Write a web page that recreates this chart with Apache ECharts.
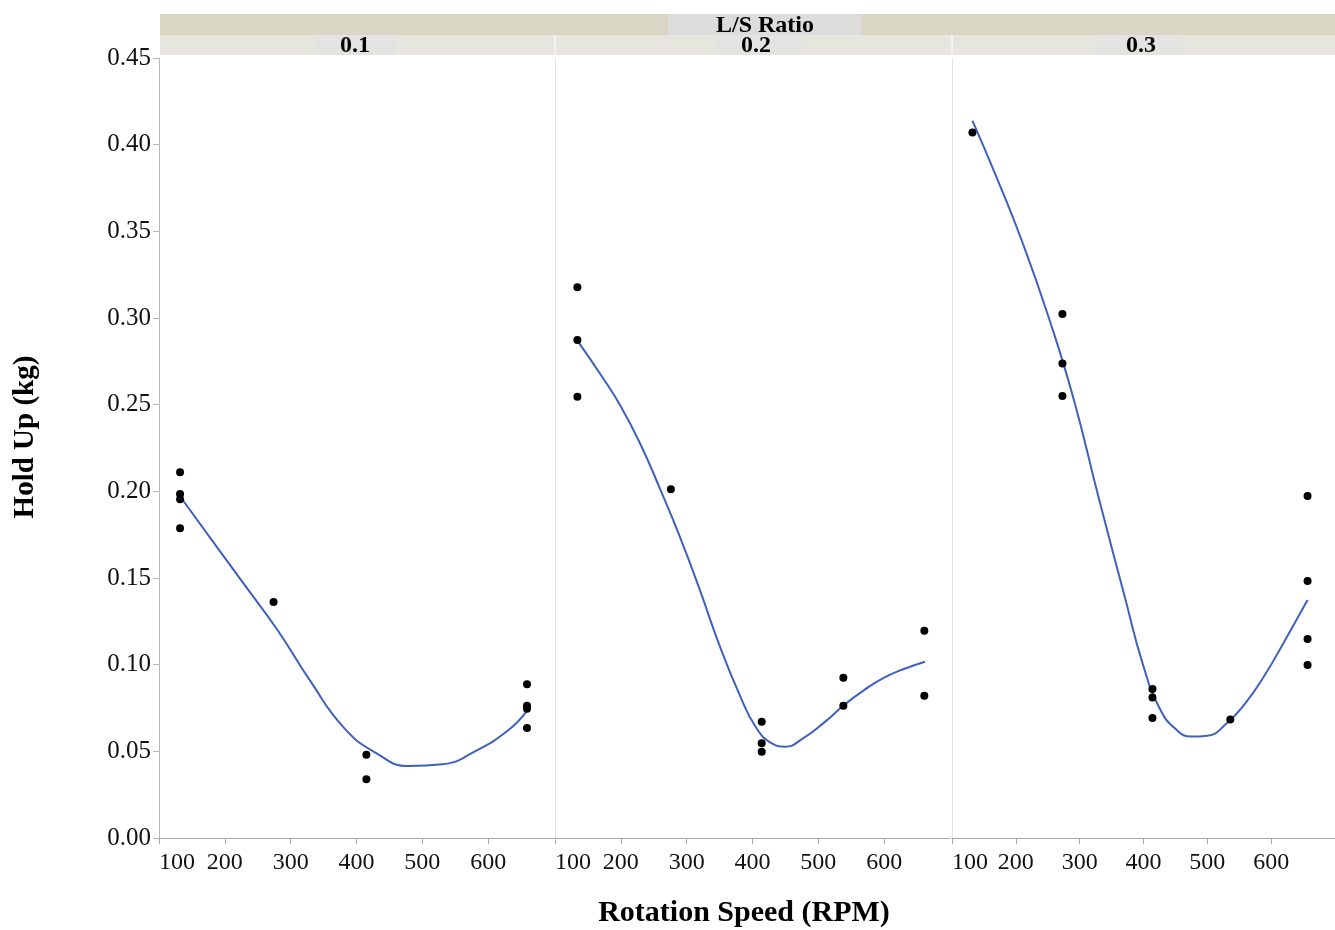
<!DOCTYPE html>
<html>
<head>
<meta charset="utf-8">
<script src="https://cdn.jsdelivr.net/npm/echarts@6/dist/echarts.min.js"></script>
<style>html,body{margin:0;padding:0;background:#fff;}#c{width:1335px;height:930px;}</style>
</head>
<body>
<div id="c"></div>
<script>
// ---- Data ----
const panelLabels = ['0.1', '0.2', '0.3'];
const stripTitle = 'L/S Ratio';
const xTitle = 'Rotation Speed (RPM)';
const yTitle = 'Hold Up (kg)';

// Observed points, L/S = 0.1
const p1X = [132, 132, 132, 132, 274, 415, 415, 659, 659, 659, 659];
const p1Y = [0.211, 0.1985, 0.1954, 0.1787, 0.1362, 0.0481, 0.0339, 0.0887, 0.0763, 0.0746, 0.0635];
// Observed points, L/S = 0.2
const p2X = [134, 134, 134, 276, 414, 414, 414, 538, 538, 661, 661];
const p2Y = [0.3177, 0.2873, 0.2546, 0.2012, 0.0671, 0.0546, 0.0498, 0.0925, 0.0763, 0.1196, 0.0821];
// Observed points, L/S = 0.3
const p3X = [132, 273, 273, 273, 414, 414, 414, 536, 657, 657, 657, 657];
const p3Y = [0.407, 0.3023, 0.2738, 0.255, 0.086, 0.0811, 0.0692, 0.0684, 0.1973, 0.1483, 0.1148, 0.0998];

// Smoothing fit curves
const f1X = [133, 180, 230, 280, 330, 380, 430, 480, 530, 580, 630, 658];
const f1Y = [0.1966, 0.172, 0.146, 0.120, 0.0905, 0.064, 0.049, 0.0415, 0.0425, 0.050, 0.062, 0.0729];
const f2X = [135, 170, 200, 230, 260, 290, 320, 350, 380, 405, 430, 450, 475, 510, 540, 570, 600, 630, 662];
const f2Y = [0.2864, 0.267, 0.249, 0.227, 0.201, 0.1735, 0.1431, 0.111, 0.083, 0.064, 0.0545, 0.0527, 0.057, 0.067, 0.077, 0.0855, 0.0925, 0.0975, 0.1017];
const f3X = [132, 170, 210, 250, 290, 330, 370, 400, 425, 450, 475, 500, 530, 560, 590, 620, 657];
const f3Y = [0.4139, 0.381, 0.344, 0.302, 0.254, 0.196, 0.140, 0.099, 0.075, 0.063, 0.0585, 0.059, 0.066, 0.078, 0.094, 0.113, 0.1373];

const pts = [[p1X, p1Y], [p2X, p2Y], [p3X, p3Y]];
const fits = [[f1X, f1Y], [f2X, f2Y], [f3X, f3Y]];
const zip = (a, b) => a.map((v, i) => [v, b[i]]);

// ---- Layout ----
const FONT = 'Liberation Serif';
const lefts = [159, 555, 952];
const W = 395, TOP = 58, H = 780;

const grids = lefts.map(l => ({ left: l, top: TOP, width: W, height: H }));
const xAxes = lefts.map((l, i) => ({
  type: 'value', gridIndex: i, min: 100, max: 700, interval: 100,
  axisLine: { show: true, lineStyle: { color: '#a8a8a8', width: 1 } },
  axisTick: { show: true, length: 6, lineStyle: { color: '#a8a8a8' } },
  axisLabel: { showMaxLabel: false, alignMinLabel: 'left', color: '#111', fontFamily: FONT, fontSize: 24, margin: 13 },
  splitLine: { show: false }
}));
const yAxes = lefts.map((l, i) => ({
  type: 'value', gridIndex: i, min: 0, max: 0.45, interval: 0.05,
  axisLine: { show: true, lineStyle: { color: i === 0 ? '#b8b8b8' : '#e2e2e2', width: 1 } },
  axisTick: { show: i === 0, length: 6, lineStyle: { color: '#b8b8b8' } },
  axisLabel: { show: i === 0, color: '#111', fontFamily: FONT, fontSize: 25, margin: 8,
    formatter: v => v.toFixed(2) },
  splitLine: { show: false }
}));

const series = [];
for (let i = 0; i < 3; i++) {
  series.push({
    type: 'line', xAxisIndex: i, yAxisIndex: i, data: zip(fits[i][0], fits[i][1]),
    smooth: 0.5, showSymbol: false, silent: true,
    lineStyle: { color: '#3e61bd', width: 2 }, z: 2
  });
  series.push({
    type: 'scatter', xAxisIndex: i, yAxisIndex: i, data: zip(pts[i][0], pts[i][1]),
    symbolSize: 8, itemStyle: { color: '#000', opacity: 1 }, z: 3
  });
}

const hdrFont = 'bold 24px "Liberation Serif"';
const graphic = [
  { type: 'rect', shape: { x: 160, y: 14, width: 1175, height: 21 }, style: { fill: '#d9d6c6' }, z: 1 },
  { type: 'rect', shape: { x: 668, y: 14, width: 194, height: 21 }, style: { fill: '#dcdcdb' }, z: 2 },
  { type: 'rect', shape: { x: 160, y: 35, width: 1175, height: 20 }, style: { fill: '#e7e6de' }, z: 1 },
  { type: 'rect', shape: { x: 315, y: 35, width: 81, height: 20 }, style: { fill: '#e3e3e1' }, z: 2 },
  { type: 'rect', shape: { x: 715, y: 35, width: 86, height: 20 }, style: { fill: '#e3e3e1' }, z: 2 },
  { type: 'rect', shape: { x: 1096, y: 35, width: 86, height: 20 }, style: { fill: '#e3e3e1' }, z: 2 },
  { type: 'line', shape: { x1: 555, y1: 35, x2: 555, y2: 58 }, style: { stroke: '#ffffff', lineWidth: 1 }, z: 3 },
  { type: 'line', shape: { x1: 952, y1: 35, x2: 952, y2: 58 }, style: { stroke: '#ffffff', lineWidth: 1 }, z: 3 },
  { type: 'text', x: 765, y: 26, style: { text: stripTitle, font: hdrFont, fill: '#000', align: 'center', verticalAlign: 'middle' }, z: 4 },
  { type: 'text', x: 355, y: 46, style: { text: panelLabels[0], font: hdrFont, fill: '#000', align: 'center', verticalAlign: 'middle' }, z: 4 },
  { type: 'text', x: 756, y: 46, style: { text: panelLabels[1], font: hdrFont, fill: '#000', align: 'center', verticalAlign: 'middle' }, z: 4 },
  { type: 'text', x: 1141, y: 46, style: { text: panelLabels[2], font: hdrFont, fill: '#000', align: 'center', verticalAlign: 'middle' }, z: 4 },
  { type: 'text', x: 744, y: 913, style: { text: xTitle, font: 'bold 30px "Liberation Serif"', fill: '#000', align: 'center', verticalAlign: 'middle' }, z: 4 },
  { type: 'text', x: 26, y: 437, rotation: Math.PI / 2, style: { text: yTitle, font: 'bold 29px "Liberation Serif"', fill: '#000', align: 'center', verticalAlign: 'middle' }, z: 4 }
];

const chart = echarts.init(document.getElementById('c'), null, { renderer: 'canvas' });
chart.setOption({
  backgroundColor: '#ffffff',
  animation: false,
  grid: grids,
  xAxis: xAxes,
  yAxis: yAxes,
  series: series,
  graphic: graphic
});
</script>
</body>
</html>
